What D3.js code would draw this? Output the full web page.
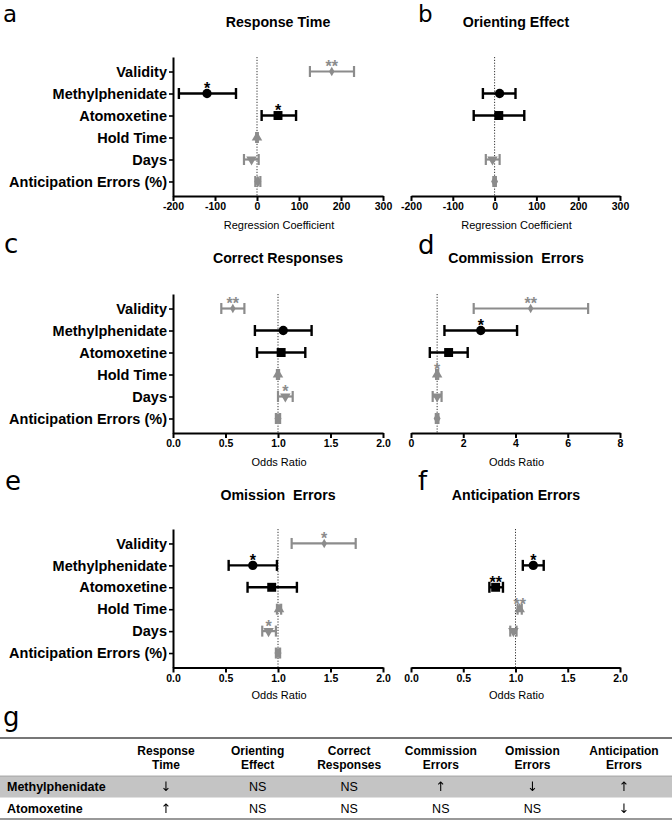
<!DOCTYPE html>
<html><head><meta charset="utf-8">
<script src="https://cdn.jsdelivr.net/npm/d3@7"></script>
<style>
body{margin:0;background:#fff;}
svg{font-family:"Liberation Sans", Arial, Helvetica, sans-serif;}
.arrow{filter:grayscale(1);}
</style></head><body>
<svg id="chart" width="672" height="821"></svg>
<script>
// ---------- DATA ----------
const predictors = ["Validity","Methylphenidate","Atomoxetine","Hold Time","Days","Anticipation Errors (%)"];
const panelTitles = ["Response Time","Orienting Effect","Correct Responses","Commission  Errors","Omission  Errors","Anticipation Errors"];
const panelLetters = ["a","b","c","d","e","f"];
const axisTitles = ["Regression Coefficient","Regression Coefficient","Odds Ratio","Odds Ratio","Odds Ratio","Odds Ratio"];
const xDomains = [[-200,300],[-200,300],[0,2],[0,8],[0,2],[0,2]];
const ticksCoef = [-200,-100,0,100,200,300];
const ticksOR2 = [0,0.5,1,1.5,2];
const ticksOR8 = [0,2,4,6,8];
const refValues = [0,0,1,1,1,1];

// a: Response Time
const rtEst   = [178, -119, 50, 0, -13, 2];
const rtLo    = [126, -186, 11, -2, -31, -4];
const rtHi    = [231, -50, 93, 2, 4, 8];
const rtStars = ["**","*","*","","",""];
// b: Orienting Effect
const oeEst   = [null, 12, 10, null, -5, 0];
const oeLo    = [null, -28, -50, null, -21, -3];
const oeHi    = [null, 50, 71, null, 12, 3];
const oeStars = ["","","","","",""];
// c: Correct Responses
const crEst   = [0.57, 1.05, 1.03, 1.0, 1.07, 1.0];
const crLo    = [0.46, 0.78, 0.80, 0.99, 1.0, 0.98];
const crHi    = [0.68, 1.32, 1.26, 1.01, 1.14, 1.02];
const crStars = ["**","","","","*",""];
// d: Commission Errors
const ceEst   = [4.58, 2.67, 1.44, 1.0, 1.0, 1.0];
const ceLo    = [2.4, 1.28, 0.72, 0.96, 0.83, 0.95];
const ceHi    = [6.78, 4.06, 2.17, 1.04, 1.17, 1.05];
const ceStars = ["**","*","","*","",""];
// e: Omission Errors
const omEst   = [1.44, 0.76, 0.94, 1.01, 0.91, 1.0];
const omLo    = [1.13, 0.53, 0.71, 0.99, 0.85, 0.98];
const omHi    = [1.74, 0.99, 1.18, 1.03, 0.98, 1.02];
const omStars = ["*","*","","","*",""];
// f: Anticipation Errors
const aeEst   = [null, 1.17, 0.81, 1.04, 0.98, null];
const aeLo    = [null, 1.07, 0.75, 1.02, 0.95, null];
const aeHi    = [null, 1.27, 0.88, 1.06, 1.01, null];
const aeStars = ["","*","**","**","",""];

// g: table
const tableColumns = [["Response","Time"],["Orienting","Effect"],["Correct","Responses"],["Commission","Errors"],["Omission","Errors"],["Anticipation","Errors"]];
const tableRows = ["Methylphenidate","Atomoxetine"];
const methylEffects = ["↓","NS","NS","↑","↓","↑"];
const atomoxEffects = ["↑","NS","NS","NS","NS","↓"];

// ---------- STYLE / LAYOUT ----------
const svg = d3.select("#chart");
const GRAY = "#8c8c8c";
const predColor = ["gray","black","black","gray","gray","gray"].map(c => c==="gray"?GRAY:"#000");
const predSymbol = [
  {type:d3.symbolDiamond, size:26, rot:0},
  {type:d3.symbolCircle, size:68, rot:0},
  {type:d3.symbolSquare, size:80, rot:0},
  {type:d3.symbolTriangle, size:48, rot:0},
  {type:d3.symbolTriangle, size:48, rot:180},
  {type:d3.symbolDiamond, size:42, rot:0}
];

const panels = [
  {est:rtEst, lo:rtLo, hi:rtHi, stars:rtStars, ticks:ticksCoef},
  {est:oeEst, lo:oeLo, hi:oeHi, stars:oeStars, ticks:ticksCoef},
  {est:crEst, lo:crLo, hi:crHi, stars:crStars, ticks:ticksOR2},
  {est:ceEst, lo:ceLo, hi:ceHi, stars:ceStars, ticks:ticksOR8},
  {est:omEst, lo:omLo, hi:omHi, stars:omStars, ticks:ticksOR2},
  {est:aeEst, lo:aeLo, hi:aeHi, stars:aeStars, ticks:ticksOR2}
];

const xRanges = [[173,383],[411,620]];
const axisYs = [196,433,667.5];
const axisTops = [57,294,529];
const titleYs = [27,263,500];
const titleXs = [278,516];
const axisTitleYs = [229,466,699];
const letterPos = [[3,22],[418,22],[4,253],[418,254],[5,490],[418,490]];

panels.forEach((p,i) => {
  const col = i%2, r = Math.floor(i/2);
  const g = svg.append("g");
  const x = d3.scaleLinear().domain(xDomains[i]).range(xRanges[col]);
  const y = d3.scalePoint().domain(predictors).range([axisTops[r], axisYs[r]]).padding(0.66);

  // letter
  svg.append("text").attr("x",letterPos[i][0]).attr("y",letterPos[i][1])
    .attr("font-size",i<2?23:26).attr("font-family","DejaVu Sans, sans-serif").attr("font-weight","normal").text(panelLetters[i]);
  // title
  g.append("text").attr("x",titleXs[col]).attr("y",titleYs[r]).attr("text-anchor","middle")
    .attr("font-size",14.2).attr("font-weight","bold").style("white-space","pre").text(panelTitles[i]);
  // axis title
  g.append("text").attr("x",(xRanges[col][0]+xRanges[col][1])/2+1).attr("y",axisTitleYs[r]).attr("text-anchor","middle")
    .attr("font-size",11).text(axisTitles[i]);

  // reference dotted line
  g.append("line").attr("x1",x(refValues[i])).attr("x2",x(refValues[i]))
    .attr("y1",axisTops[r]).attr("y2",axisYs[r])
    .attr("stroke","#333").attr("stroke-width",1).attr("stroke-dasharray","1.2,1.6");

  // x axis
  const fmt = p.ticks === ticksOR2 ? d3.format(".1f") : d3.format("d");
  const xa = g.append("g").attr("transform",`translate(0,${axisYs[r]})`)
    .call(d3.axisBottom(x).tickValues(p.ticks).tickFormat(d => fmt(d).replace("−","-")).tickSize(5).tickSizeOuter(0).tickPadding(2));
  xa.select(".domain").attr("stroke","#000").attr("stroke-width",2);
  xa.selectAll(".tick line").attr("stroke","#000").attr("stroke-width",2);
  xa.selectAll(".tick text").attr("font-size",10.5).attr("font-weight","bold").attr("fill","#000").attr("font-family","Liberation Sans, Arial, sans-serif");

  // y axis on left panels
  if (col===0) {
    const ya = g.append("g").attr("transform",`translate(${xRanges[0][0]},0)`)
      .call(d3.axisLeft(y).tickSize(4).tickSizeOuter(0).tickPadding(2));
    ya.select(".domain").attr("stroke","#000").attr("stroke-width",2);
    ya.selectAll(".tick line").attr("stroke","#000").attr("stroke-width",1.6);
    ya.selectAll(".tick text").attr("font-size",14.5).attr("font-weight","bold").attr("fill","#000").attr("font-family","Liberation Sans, Arial, sans-serif");
  }

  // error bars and markers
  predictors.forEach((pred,k) => {
    if (p.est[k]===null) return;
    const yy = y(pred);
    const c = predColor[k];
    const sw = c==="#000"?2.4:2.2;
    const eg = g.append("g");
    eg.append("line").attr("x1",x(p.lo[k])).attr("x2",x(p.hi[k])).attr("y1",yy).attr("y2",yy)
      .attr("stroke",c).attr("stroke-width",sw);
    [p.lo[k],p.hi[k]].forEach(v => {
      eg.append("line").attr("x1",x(v)).attr("x2",x(v)).attr("y1",yy-5.5).attr("y2",yy+5.5)
        .attr("stroke",c).attr("stroke-width",sw);
    });
    const s = predSymbol[k];
    eg.append("path").attr("d",d3.symbol().type(s.type).size(s.size)())
      .attr("transform",`translate(${x(p.est[k])},${yy}) rotate(${s.rot})`)
      .attr("fill",c);
    if (p.stars[k]) {
      eg.append("text").attr("x",x(p.est[k])).attr("y",yy+0.5).attr("text-anchor","middle")
        .attr("font-size",16).attr("font-weight","bold").attr("fill",c).text(p.stars[k]);
    }
  });
});

// ---------- TABLE (g) ----------
svg.append("text").attr("x",3).attr("y",726).attr("font-size",26).attr("font-family","DejaVu Sans, sans-serif").text("g");
const colX = d3.scalePoint().domain(tableColumns.map(c=>c.join(" "))).range([166,624]);
const tbl = svg.append("g");
tbl.append("line").attr("x1",0).attr("x2",672).attr("y1",738).attr("y2",738).attr("stroke","#777").attr("stroke-width",2);
tbl.append("rect").attr("x",0).attr("y",776).attr("width",672).attr("height",21.5).attr("fill","#c4c4c4");
tbl.append("line").attr("x1",0).attr("x2",672).attr("y1",776).attr("y2",776).attr("stroke","#999").attr("stroke-width",0.8);
tbl.append("line").attr("x1",0).attr("x2",672).attr("y1",819).attr("y2",819).attr("stroke","#777").attr("stroke-width",1.6);
tableColumns.forEach(c => {
  const cx = colX(c.join(" "));
  c.forEach((w,j) => {
    tbl.append("text").attr("x",cx).attr("y",754.5+j*14).attr("text-anchor","middle")
      .attr("font-size",12).attr("font-weight","bold").text(w);
  });
});
const rowY = [791, 813];
const rowVals = [methylEffects, atomoxEffects];
tableRows.forEach((rname,ri) => {
  tbl.append("text").attr("x",7).attr("y",rowY[ri]).attr("font-size",12.5).attr("font-weight","bold").text(rname);
  rowVals[ri].forEach((v,ci) => {
    const isArrow = v !== "NS";
    tbl.append("text").attr("class", isArrow ? "arrow" : null)
      .attr("x",colX(tableColumns[ci].join(" "))).attr("y",rowY[ri]).attr("text-anchor","middle")
      .attr("font-size",isArrow?13:12.5).attr("fill","#000")
      .attr("font-family", isArrow ? "DejaVu Sans, sans-serif" : "Liberation Sans, Arial, sans-serif")
      .text(v);
  });
});
</script>
</body></html>
